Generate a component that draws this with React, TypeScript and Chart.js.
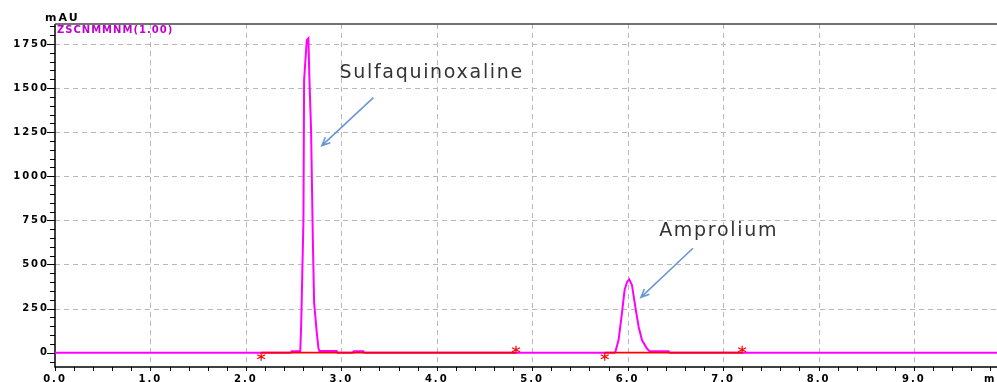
import React, { useEffect, useRef } from "react";
import { Chart, registerables } from "chart.js";

Chart.register(...registerables);

// ---- data ----
const retentionTimes = [
  0, 2.47, 2.48, 2.57, 2.58, 2.603, 2.61, 2.638, 2.655, 2.666, 2.683, 2.701, 2.715, 2.743, 2.76, 2.77,
  2.95, 2.96, 3.12, 3.13, 3.23, 3.24, 5.86, 5.87, 5.905, 5.94, 5.968, 5.993, 6.017, 6.045, 6.08, 6.115,
  6.15, 6.2, 6.23, 6.43, 6.44, 9.87,
];
const signalMAU = [
  0, 0, 8, 8, 168, 752, 1545, 1772, 1782, 1545, 1262, 658, 282, 112, 27, 10,
  10, 0, 0, 8, 8, 0, 0, 2, 72, 223, 355, 400, 416, 384, 261, 147,
  72, 25, 8, 8, 0, 0,
];
const baselineStart = [2.16, 5.76];
const baselineEnd = [4.83, 7.2];
const xTickValues = [0, 1, 2, 3, 4, 5, 6, 7, 8, 9];
const yTickValues = [0, 250, 500, 750, 1000, 1250, 1500, 1750];
const peakNames = ["Sulfaquinoxaline", "Amprolium"];
const labelTime = [2.98, 6.33];
const labelMAU = [1557, 662];
const arrowFromTime = [3.336, 6.684];
const arrowFromMAU = [1446, 592];
const arrowToTime = [2.796, 6.139];
const arrowToMAU = [1174, 314];
const X_MIN = 0;
const X_MAX = 9.87;
const Y_MIN = -81;
const Y_MAX = 1863;
const signalName = "ZSCNMMNM(1.00)";
const yUnit = "mAU";
const xUnit = "min";

const MAGENTA = "#ff00ff";
const RED = "#ff0000";
const TICK_FONT = "bold 10px 'DejaVu Sans'";

function drawStar(ctx: CanvasRenderingContext2D, cx: number, cy: number) {
  ctx.beginPath();
  ctx.moveTo(cx, cy - 4);
  ctx.lineTo(cx, cy + 4);
  ctx.moveTo(cx - 4, cy - 2);
  ctx.lineTo(cx + 4, cy + 2);
  ctx.moveTo(cx + 4, cy - 2);
  ctx.lineTo(cx - 4, cy + 2);
  ctx.stroke();
}

const overlayPlugin = {
  id: "overlay",
  beforeDraw(chart: any) {
    const ctx = chart.ctx as CanvasRenderingContext2D;
    ctx.save();
    ctx.fillStyle = "#fff";
    ctx.fillRect(0, 0, chart.width, chart.height);
    ctx.restore();
    (ctx as any).letterSpacing = "2px";
  },
  beforeDatasetsDraw(chart: any) {
    const ctx = chart.ctx as CanvasRenderingContext2D;
    const a = chart.chartArea;
    const x = chart.scales.x;
    const y = chart.scales.y;
    ctx.save();
    // dashed grid
    ctx.strokeStyle = "#b8b8b8";
    ctx.lineWidth = 1;
    ctx.setLineDash([5, 4]);
    xTickValues.forEach((v) => {
      if (v === X_MIN) return;
      const px = Math.round(x.getPixelForValue(v)) + 0.5;
      ctx.beginPath();
      ctx.moveTo(px, a.top);
      ctx.lineTo(px, a.bottom);
      ctx.stroke();
    });
    yTickValues.forEach((v) => {
      if (v === 0) return;
      const py = Math.round(y.getPixelForValue(v)) + 0.5;
      ctx.beginPath();
      ctx.moveTo(a.left, py);
      ctx.lineTo(a.right, py);
      ctx.stroke();
    });
    ctx.setLineDash([]);
    // axes and frame
    ctx.strokeStyle = "#000";
    ctx.lineWidth = 1.5;
    ctx.beginPath();
    ctx.moveTo(a.left, a.top);
    ctx.lineTo(a.left, a.bottom);
    ctx.lineTo(a.right, a.bottom);
    ctx.stroke();
    ctx.strokeStyle = "#444";
    ctx.beginPath();
    ctx.moveTo(a.left, a.top);
    ctx.lineTo(a.right, a.top);
    ctx.stroke();
    // y ticks (major 250, minor 50)
    ctx.strokeStyle = "#000";
    ctx.lineWidth = 1;
    for (let v = -50; v <= Y_MAX; v += 50) {
      const py = Math.round(y.getPixelForValue(v)) + 0.5;
      const len = v % 250 === 0 ? 8 : 5;
      ctx.beginPath();
      ctx.moveTo(a.left - len, py);
      ctx.lineTo(a.left, py);
      ctx.stroke();
    }
    // x ticks every 0.2
    for (let i = 0; i * 0.2 <= X_MAX; i++) {
      const px = Math.round(x.getPixelForValue(i * 0.2)) + 0.5;
      ctx.beginPath();
      ctx.moveTo(px, a.bottom);
      ctx.lineTo(px, a.bottom + 4);
      ctx.stroke();
    }
    ctx.restore();
  },
  afterDraw(chart: any) {
    const ctx = chart.ctx as CanvasRenderingContext2D;
    const a = chart.chartArea;
    const x = chart.scales.x;
    const y = chart.scales.y;
    ctx.save();
    // baseline event markers
    ctx.strokeStyle = RED;
    ctx.lineWidth = 1.2;
    baselineStart.forEach((t) => drawStar(ctx, x.getPixelForValue(t), y.getPixelForValue(0) + 4));
    baselineEnd.forEach((t) => drawStar(ctx, x.getPixelForValue(t), y.getPixelForValue(0) - 3));

    // unit labels
    (ctx as any).letterSpacing = "2px";
    ctx.fillStyle = "#000";
    ctx.font = "bold 11px 'DejaVu Sans'";
    ctx.textBaseline = "alphabetic";
    ctx.textAlign = "left";
    ctx.fillText(yUnit, 45, 21);
    ctx.font = TICK_FONT;
    ctx.textBaseline = "middle";
    ctx.fillText(xUnit, 984, 379);

    // signal name
    (ctx as any).letterSpacing = "1px";
    ctx.fillStyle = "#c000d0";
    ctx.font = "bold 10px 'DejaVu Sans'";
    ctx.textBaseline = "top";
    ctx.fillText(signalName, a.left + 2, a.top + 1);

    // peak annotations
    (ctx as any).letterSpacing = "1.7px";
    ctx.fillStyle = "#333";
    ctx.font = "19px 'DejaVu Sans'";
    ctx.textBaseline = "alphabetic";
    peakNames.forEach((name, i) => {
      ctx.fillText(name, x.getPixelForValue(labelTime[i]), y.getPixelForValue(labelMAU[i]));
    });
    ctx.strokeStyle = "#6a98d4";
    ctx.lineWidth = 1.6;
    peakNames.forEach((_, i) => {
      const x1 = x.getPixelForValue(arrowFromTime[i]);
      const y1 = y.getPixelForValue(arrowFromMAU[i]);
      const x2 = x.getPixelForValue(arrowToTime[i]);
      const y2 = y.getPixelForValue(arrowToMAU[i]);
      ctx.beginPath();
      ctx.moveTo(x1, y1);
      ctx.lineTo(x2, y2);
      const ang = Math.atan2(y1 - y2, x1 - x2);
      const L = 9;
      ctx.moveTo(x2 + L * Math.cos(ang + 0.42), y2 + L * Math.sin(ang + 0.42));
      ctx.lineTo(x2, y2);
      ctx.lineTo(x2 + L * Math.cos(ang - 0.42), y2 + L * Math.sin(ang - 0.42));
      ctx.stroke();
    });
    ctx.restore();
    (ctx as any).letterSpacing = "0px";
  },
};

export default function App() {
  const canvasRef = useRef<HTMLCanvasElement | null>(null);

  useEffect(() => {
    if (!canvasRef.current) return;
    const trace = retentionTimes.map((t, i) => ({ x: t, y: signalMAU[i] }));
    const baselineSets = baselineStart.map((s, i) => ({
      data: [
        { x: s, y: 0 },
        { x: baselineEnd[i], y: 0 },
      ],
      borderColor: RED,
      borderWidth: 1.8,
      pointRadius: 0,
      order: 0,
    }));
    const chart = new Chart(canvasRef.current, {
      type: "line",
      data: {
        datasets: [
          {
            data: trace,
            borderColor: MAGENTA,
            borderWidth: 2,
            pointRadius: 0,
            tension: 0,
            order: 1,
          },
          ...baselineSets,
        ] as any,
      },
      options: {
        animation: false,
        responsive: false,
        events: [],
        layout: { padding: { top: 24, left: 0, right: 0, bottom: 0 }, autoPadding: false },
        plugins: { legend: { display: false }, tooltip: { enabled: false } },
        scales: {
          x: {
            type: "linear",
            min: X_MIN,
            max: X_MAX,
            afterBuildTicks: (s: any) => {
              s.ticks = xTickValues.map((v) => ({ value: v }));
            },
            afterFit: (s: any) => {
              s.height = 15;
            },
            grid: { display: false, drawTicks: false },
            border: { display: false },
            ticks: {
              autoSkip: false,
              maxRotation: 0,
              padding: 6,
              color: "#000",
              font: { family: "'DejaVu Sans'", size: 10, weight: "bold" },
              callback: (v: any) => Number(v).toFixed(1),
            },
          },
          y: {
            type: "linear",
            min: Y_MIN,
            max: Y_MAX,
            afterBuildTicks: (s: any) => {
              s.ticks = yTickValues.map((v) => ({ value: v }));
            },
            afterFit: (s: any) => {
              s.width = 55;
            },
            grid: { display: false, drawTicks: false },
            border: { display: false },
            ticks: {
              autoSkip: false,
              padding: 6,
              color: "#000",
              font: { family: "'DejaVu Sans'", size: 10, weight: "bold" },
              callback: (v: any) => String(v),
            },
          },
        },
      } as any,
      plugins: [overlayPlugin],
    });
    return () => chart.destroy();
  }, []);

  return (
    <div style={{ position: "absolute", left: 0, top: 0, width: 997, height: 382 }}>
      <canvas ref={canvasRef} width={997} height={382} style={{ width: 997, height: 382, display: "block" }} />
    </div>
  );
}
